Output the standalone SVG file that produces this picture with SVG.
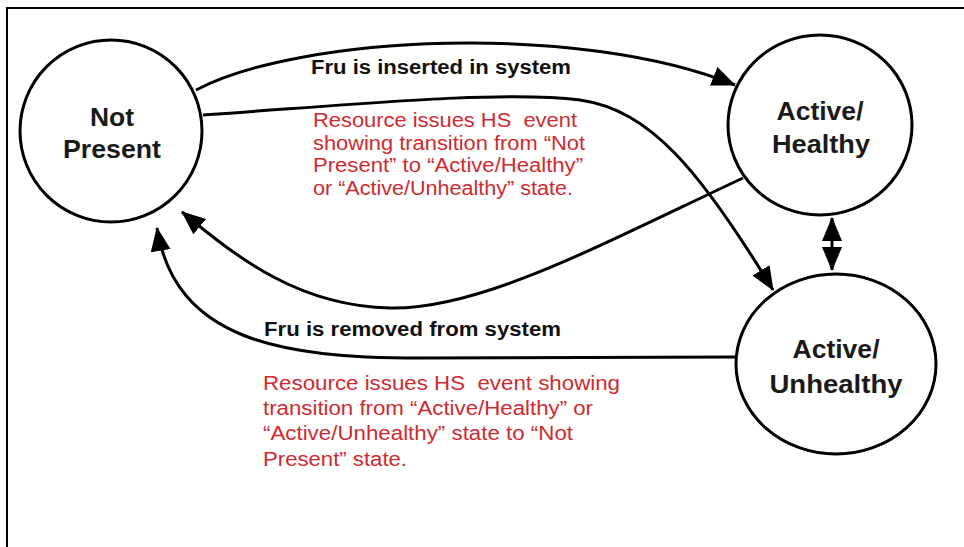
<svg xmlns="http://www.w3.org/2000/svg" width="964" height="547" viewBox="0 0 964 547">
<style>
.node{fill:#fff;stroke:#000;stroke-width:3}
.conn{fill:none;stroke:#000;stroke-width:3}
.ntxt{font-family:"Liberation Sans",Arial,sans-serif;font-weight:bold;font-size:25px;fill:#1a1a1a;text-anchor:middle}
.lbl{font-family:"Liberation Sans",Arial,sans-serif;font-weight:bold;font-size:20px;fill:#111}
.red{font-family:"Liberation Sans",Arial,sans-serif;font-size:20px;fill:#cf2a2f}
</style>
<defs>
<marker id="ah" markerUnits="userSpaceOnUse" markerWidth="26" markerHeight="22" refX="23" refY="10" orient="auto-start-reverse" viewBox="0 0 26 22">
<path d="M0,0 L24,10 L0,20 z" fill="#000"/>
</marker>
</defs>
<rect width="964" height="547" fill="#fff"/>
<path d="M7,547 L7,8 L964,8" fill="none" stroke="#000" stroke-width="2"/>
<g id="connectors">
<path class="conn" d="M196,90 C300,35 580,22 735,85" marker-end="url(#ah)"/>
<path class="conn" d="M203,115 C350,105 500,90 580,100 C650,110 700,170 773,290" marker-end="url(#ah)"/>
<path class="conn" d="M743,178 C600,245 480,310 390,308 C300,306 240,260 182,212" marker-end="url(#ah)"/>
<path class="conn" d="M736,357 L420,358 C280,358 175,340 157,228" marker-end="url(#ah)"/>
<path class="conn" d="M832,218 L832,270" stroke-width="4" marker-start="url(#ah)" marker-end="url(#ah)"/>
</g>
<g id="not-present">
<circle class="node" cx="111" cy="131" r="91"/>
<text class="ntxt" x="112" y="126" textLength="44" lengthAdjust="spacingAndGlyphs">Not</text>
<text class="ntxt" x="112" y="158" textLength="98" lengthAdjust="spacingAndGlyphs">Present</text>
</g>
<g id="active-healthy">
<ellipse class="node" cx="820" cy="125" rx="92" ry="90"/>
<text class="ntxt" x="820" y="120" textLength="87" lengthAdjust="spacingAndGlyphs">Active/</text>
<text class="ntxt" x="821" y="153" textLength="98" lengthAdjust="spacingAndGlyphs">Healthy</text>
</g>
<g id="active-unhealthy">
<ellipse class="node" cx="836" cy="364" rx="100" ry="90"/>
<text class="ntxt" x="836" y="358" textLength="87" lengthAdjust="spacingAndGlyphs">Active/</text>
<text class="ntxt" x="836" y="393" textLength="133" lengthAdjust="spacingAndGlyphs">Unhealthy</text>
</g>
<g id="labels">
<text class="lbl" x="311" y="74" textLength="260" lengthAdjust="spacingAndGlyphs">Fru is inserted in system</text>
<text class="red" xml:space="preserve" x="313" y="127" textLength="264" lengthAdjust="spacingAndGlyphs">Resource issues HS  event</text>
<text class="red" x="313" y="150" textLength="272" lengthAdjust="spacingAndGlyphs">showing transition from “Not</text>
<text class="red" x="313" y="172" textLength="270" lengthAdjust="spacingAndGlyphs">Present” to “Active/Healthy”</text>
<text class="red" x="313" y="195" textLength="260" lengthAdjust="spacingAndGlyphs">or “Active/Unhealthy” state.</text>
<text class="lbl" x="264" y="336" textLength="297" lengthAdjust="spacingAndGlyphs">Fru is removed from system</text>
<text class="red" xml:space="preserve" x="263" y="390" textLength="357" lengthAdjust="spacingAndGlyphs">Resource issues HS  event showing</text>
<text class="red" x="263" y="415" textLength="330" lengthAdjust="spacingAndGlyphs">transition from “Active/Healthy” or</text>
<text class="red" x="263" y="440" textLength="310" lengthAdjust="spacingAndGlyphs">“Active/Unhealthy” state to “Not</text>
<text class="red" x="263" y="466" textLength="144" lengthAdjust="spacingAndGlyphs">Present” state.</text>
</g>
</svg>
